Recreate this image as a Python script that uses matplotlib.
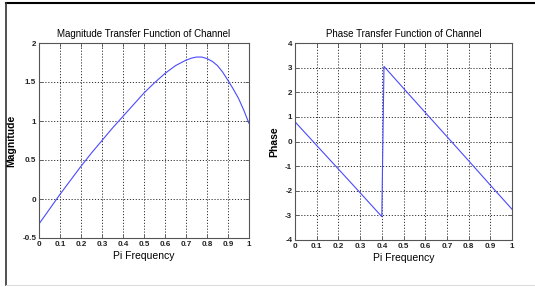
import numpy as np
import matplotlib
matplotlib.use("Agg")
import matplotlib.pyplot as plt
from matplotlib.lines import Line2D

# magnitude response
mag_freq = [0.0, 0.05, 0.1, 0.15, 0.2, 0.25, 0.3, 0.35, 0.4, 0.45, 0.5, 0.55,
            0.6, 0.65, 0.7, 0.725, 0.75, 0.775, 0.8, 0.825, 0.85, 0.875, 0.9,
            0.925, 0.95, 0.975, 1.0]
mag_vals = [-0.32, -0.13, 0.06, 0.24, 0.42, 0.59, 0.75, 0.91, 1.06, 1.21, 1.36, 1.49,
            1.61, 1.71, 1.78, 1.805, 1.82, 1.82, 1.80, 1.765, 1.71, 1.625, 1.52,
            1.41, 1.29, 1.14, 0.97]

# phase response
phase_freq = [0.0, 0.1, 0.2, 0.3, 0.4, 0.41, 0.5, 0.6, 0.7, 0.8, 0.9, 1.0]
phase_vals = [0.8, -0.16, -1.12, -2.08, -3.05, 3.05, 2.16, 1.18, 0.2, -0.78, -1.77, -2.75]

freq_ticks = [0, 0.1, 0.2, 0.3, 0.4, 0.5, 0.6, 0.7, 0.8, 0.9, 1]
freq_labels = ["0", "0.1", "0.2", "0.3", "0.4", "0.5", "0.6", "0.7", "0.8", "0.9", "1"]
mag_ticks = [-0.5, 0, 0.5, 1, 1.5, 2]
mag_labels = ["-0.5", "0", "0.5", "1", "1.5", "2"]
phase_ticks = [-4, -3, -2, -1, 0, 1, 2, 3, 4]

plt.rcParams["font.family"] = ["Liberation Sans", "DejaVu Sans"]

W, H = 535, 287
fig = plt.figure(figsize=(W / 100, H / 100), dpi=100)
fig.patch.set_facecolor("white")


def px_axes(x0, y0, x1, y1):
    return fig.add_axes([x0 / W, 1 - y1 / H, (x1 - x0) / W, (y1 - y0) / H])


def style(ax):
    for s in ax.spines.values():
        s.set_color("#555555")
        s.set_linewidth(0.8)
    ax.grid(True, color="#333333", linestyle=(0, (1.2, 1.8)), linewidth=0.7)
    ax.tick_params(direction="in", length=3, width=0.6, colors="#555555",
                   labelcolor="#222222", labelsize=5.8, pad=2,
                   top=True, right=True)
    for lab in ax.get_xticklabels() + ax.get_yticklabels():
        lab.set_fontweight("bold")


ax1 = px_axes(39, 43, 249, 238)
ax1.plot(mag_freq, mag_vals, color="#4a4aff", linewidth=0.8)
ax1.set_xlim(0, 1)
ax1.set_ylim(-0.5, 2)
ax1.set_xticks(freq_ticks, freq_labels)
ax1.set_yticks(mag_ticks, mag_labels)
style(ax1)
ax1.set_title("Magnitude Transfer Function of Channel", fontsize=7, pad=4)
ax1.set_xlabel("Pi Frequency", fontsize=7.5, labelpad=2)
ax1.set_ylabel("Magnitude", fontsize=7.5, fontweight="bold", labelpad=4)

ax2 = px_axes(295, 43, 512, 240)
ax2.plot(phase_freq, phase_vals, color="#4a4aff", linewidth=0.8)
ax2.set_xlim(0, 1)
ax2.set_ylim(-4, 4)
ax2.set_xticks(freq_ticks, freq_labels)
ax2.set_yticks(phase_ticks, [str(t) for t in phase_ticks])
style(ax2)
ax2.set_title("Phase Transfer Function of Channel", fontsize=7, pad=4)
ax2.set_xlabel("Pi Frequency", fontsize=7.5, labelpad=2)
ax2.set_ylabel("Phase", fontsize=7.5, fontweight="bold", labelpad=4)

# frame around the figure
fig.add_artist(Line2D([6 / W, 1], [1 - 3 / H, 1 - 3 / H], color="black", linewidth=1.5))
fig.add_artist(Line2D([6 / W, 6 / W], [1 - 3 / H, 1 - 285 / H], color="#333333", linewidth=1.2))
fig.add_artist(Line2D([6 / W, 1], [1 - 285 / H, 1 - 285 / H], color="#dddddd", linewidth=0.8))

fig.savefig("out.png", dpi=100)
